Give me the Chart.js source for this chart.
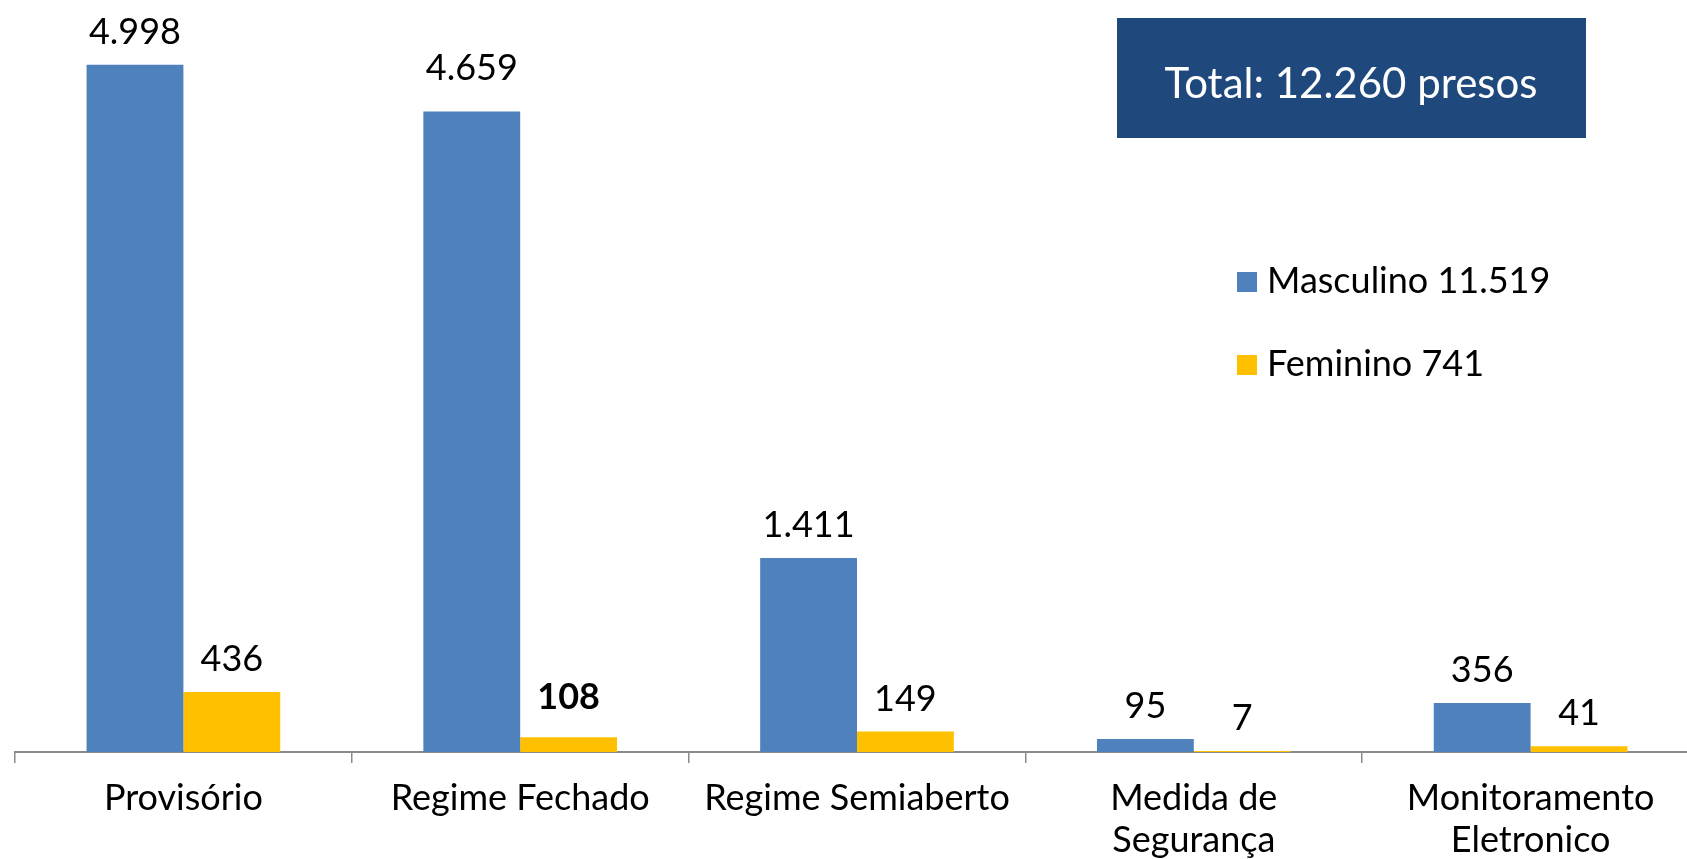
<!DOCTYPE html>
<html>
<head>
<meta charset="utf-8">
<script src="https://cdn.jsdelivr.net/npm/chart.js@4"></script>
<style>
  html, body { margin: 0; padding: 0; background: #fff; overflow: hidden; }
  canvas { display: block; }
</style>
</head>
<body>
<canvas id="Presos-Chart" width="1699" height="859"></canvas>
<script>
const labels = ["Provisório", "Regime Fechado", "Regime Semiaberto", ["Medida de", "Segurança"], ["Monitoramento", "Eletronico"]];
const masculino = [4998, 4659, 1411, 95, 356];
const feminino = [436, 108, 149, 7, 41];

const FONT = "Lato, 'Open Sans', sans-serif";

function fmt(n) {
  return n.toString().replace(/\B(?=(\d{3})+(?!\d))/g, ".");
}
function sum(arr) {
  return arr.reduce((a, b) => a + b, 0);
}

const data = {
  labels: labels,
  datasets: [
    {
      label: "Masculino",
      backgroundColor: "#4F81BD",
      data: masculino,
    },
    {
      label: "Feminino",
      backgroundColor: "#FFC000",
      data: feminino,
    },
  ],
};

// value labels above bars, total box and legend
const valueLabels = {
  id: "valueLabels",
  afterDatasetsDraw(chart) {
    const ctx = chart.ctx;
    // a couple of labels sit a bit higher in the original
    const lift = { "0-1": 31, "1-1": 28 };
    ctx.save();
    ctx.textAlign = "center";
    ctx.textBaseline = "alphabetic";
    ctx.fillStyle = "#000";
    chart.data.datasets.forEach((ds, i) => {
      chart.getDatasetMeta(i).data.forEach((bar, j) => {
        const bold = i === 1 && j === 1;
        ctx.font = (bold ? "bold " : "") + "36px " + FONT;
        const up = lift[i + "-" + j] || 21;
        ctx.fillText(fmt(ds.data[j]), bar.x, bar.y - up);
      });
    });
    ctx.restore();
  },
  afterDraw(chart) {
    const ctx = chart.ctx;
    ctx.save();
    // total box
    ctx.fillStyle = "#1F497D";
    ctx.fillRect(1117, 18, 469, 120);
    const total = chart.data.datasets.reduce((t, ds) => t + sum(ds.data), 0);
    ctx.fillStyle = "#fff";
    ctx.font = "42px " + FONT;
    ctx.textAlign = "center";
    ctx.textBaseline = "alphabetic";
    ctx.fillText("Total: " + fmt(total) + " presos", 1351, 98);
    // legend
    ctx.textAlign = "left";
    ctx.font = "36px " + FONT;
    chart.data.datasets.forEach((ds, i) => {
      const y = 272 + i * 83;
      ctx.fillStyle = ds.backgroundColor;
      ctx.fillRect(1237, y, 20, 20);
      ctx.fillStyle = "#000";
      ctx.fillText(ds.label + " " + fmt(sum(ds.data)), 1267, y + 21);
    });
    ctx.restore();
  },
};

const config = {
  type: "bar",
  data: data,
  options: {
    responsive: false,
    animation: false,
    layout: { padding: { left: 15, right: 0, top: 0, bottom: 0 } },
    datasets: {
      bar: { categoryPercentage: 0.575, barPercentage: 1.0 },
    },
    plugins: {
      legend: { display: false },
      tooltip: { enabled: false },
      title: { display: false },
    },
    scales: {
      y: {
        display: false,
        min: 0,
        max: 5469,
      },
      x: {
        afterFit: (scale) => { scale.height = 107; },
        border: { color: "#8A8A8A", width: 2 },
        grid: {
          offset: true,
          drawOnChartArea: false,
          color: "#8A8A8A",
          tickLength: 11,
          lineWidth: 1.5,
        },
        ticks: {
          color: "#000",
          padding: 15,
          font: { family: FONT, size: 36, lineHeight: 1.15 },
          maxRotation: 0,
          autoSkip: false,
        },
      },
    },
  },
  plugins: [valueLabels],
};

let myChart = new Chart(document.getElementById("Presos-Chart"), config);
</script>
</body>
</html>
